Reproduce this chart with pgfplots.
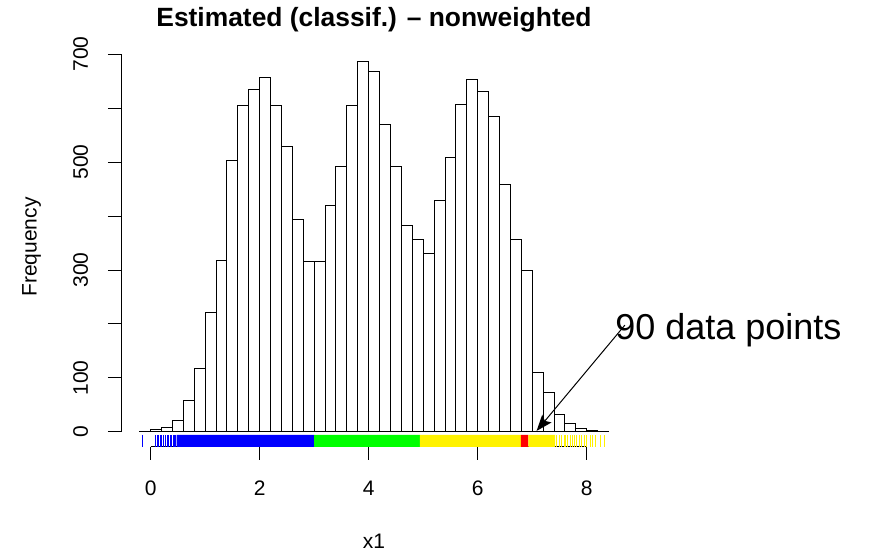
\documentclass[border=0pt]{standalone}
\usepackage{pgfplots}
\pgfplotsset{compat=1.18}
\usepackage{fontspec}
\setmainfont{Liberation Sans}
\usetikzlibrary{arrows.meta}

% bin left edges (width 0.2) and counts; the final row closes the last bin
\pgfplotstableread{
x     n
-0.2  1
0.0   4
0.2   9
0.4   22
0.6   59
0.8   117
1.0   222
1.2   318
1.4   503
1.6   604
1.8   635
2.0   656
2.2   604
2.4   528
2.6   393
2.8   316
3.0   316
3.2   420
3.4   491
3.6   604
3.8   686
4.0   668
4.2   569
4.4   491
4.6   383
4.8   357
5.0   331
5.2   429
5.4   509
5.6   606
5.8   653
6.0   631
6.2   585
6.4   459
6.6   356
6.8   299
7.0   111
7.2   73
7.4   33
7.6   15
7.8   6
8.0   2
8.2   1
8.4   1
}\histdata

\begin{document}
\begin{tikzpicture}
\path[use as bounding box] (0,0) rectangle (870pt,553pt);
\begin{axis}[
  at={(121pt,106.2pt)}, anchor=south west,
  scale only axis, width=506.3pt, height=400pt,
  xmin=-0.544, xmax=8.744, ymin=-27.44, ymax=713.44,
  clip=false,
  axis line style={draw=none},
  tick align=outside, major tick length=13pt,
  tick style={black, line width=1pt},
  xtick pos=left, ytick pos=left,
  xtick={0,2,4,6,8}, xticklabels={0,2,4,6,8},
  ytick={0,100,...,700}, yticklabels={0,100,,300,,500,,700},
  /pgf/number format/assume math mode=true,
  ticklabel style={font=\fontsize{21}{25}\selectfont},
  xticklabel style={anchor=base, yshift=-36pt},
  yticklabel style={rotate=90, anchor=base, yshift=20pt},
]
% histogram
\addplot[ybar interval, fill=white, draw=black, line width=1pt] table[x=x, y=n] {\histdata};

% axis lines over the tick range
\addplot[black, line width=1pt] coordinates {(0,-27.44) (8,-27.44)};
\addplot[black, line width=1pt] coordinates {(-0.544,0) (-0.544,700)};

% rug: dense stretches as bands
\addplot[fill=blue, draw=none] coordinates {(0.475,-27.44) (3.0,-27.44) (3.0,-5.17) (0.475,-5.17) (0.475,-27.44)};
\addplot[fill=green, draw=none] coordinates {(3.0,-27.44) (4.94,-27.44) (4.94,-5.17) (3.0,-5.17) (3.0,-27.44)};
\addplot[fill=yellow, draw=none] coordinates {(4.94,-27.44) (6.79,-27.44) (6.79,-5.17) (4.94,-5.17) (4.94,-27.44)};
\addplot[fill=red, draw=none] coordinates {(6.79,-27.44) (6.93,-27.44) (6.93,-5.17) (6.79,-5.17) (6.79,-27.44)};
\addplot[fill=yellow, draw=none] coordinates {(6.93,-27.44) (7.42,-27.44) (7.42,-5.17) (6.93,-5.17) (6.93,-27.44)};
% rug: sparse tails as single ticks
\addplot[only marks, mark=|, mark size=6pt, blue, mark options={line width=0.8pt}] coordinates {
 (-0.15,-16.3) (0.092,-16.3) (0.116,-16.3) (0.14,-16.3) (0.171,-16.3) (0.202,-16.3)
 (0.231,-16.3) (0.275,-16.3) (0.305,-16.3) (0.323,-16.3) (0.354,-16.3) (0.385,-16.3)
 (0.409,-16.3) (0.433,-16.3) (0.45,-16.3) (0.462,-16.3)};
\addplot[only marks, mark=|, mark size=6pt, yellow, mark options={line width=0.8pt}] coordinates {
 (7.448,-16.3) (7.496,-16.3) (7.54,-16.3) (7.582,-16.3) (7.613,-16.3) (7.65,-16.3)
 (7.692,-16.3) (7.734,-16.3) (7.771,-16.3) (7.815,-16.3) (7.857,-16.3) (7.907,-16.3)
 (7.954,-16.3) (7.998,-16.3) (8.059,-16.3) (8.101,-16.3) (8.15,-16.3) (8.25,-16.3) (8.33,-16.3)};

% annotation
\draw[line width=1pt, -{Stealth[length=16pt, width=12pt, inset=3pt]}] (axis cs:8.70,198) -- (axis cs:7.08,2);
\node[anchor=base west, inner sep=0pt, font=\fontsize{36}{40}\selectfont] at (axis cs:8.52,170.4) {90 data points};
\end{axis}
% titles
\node[anchor=base, inner sep=0pt, font=\bfseries\fontsize{26.4}{31}\selectfont] at (374pt,526.3pt) {Estimated (classif.) – nonweighted};
\node[anchor=base, inner sep=0pt, font=\fontsize{21}{25}\selectfont] at (374pt,4.7pt) {x1};
\node[anchor=base, inner sep=0pt, rotate=90, font=\fontsize{21}{25}\selectfont] at (36.5pt,306pt) {Frequency};
\end{tikzpicture}
\end{document}
